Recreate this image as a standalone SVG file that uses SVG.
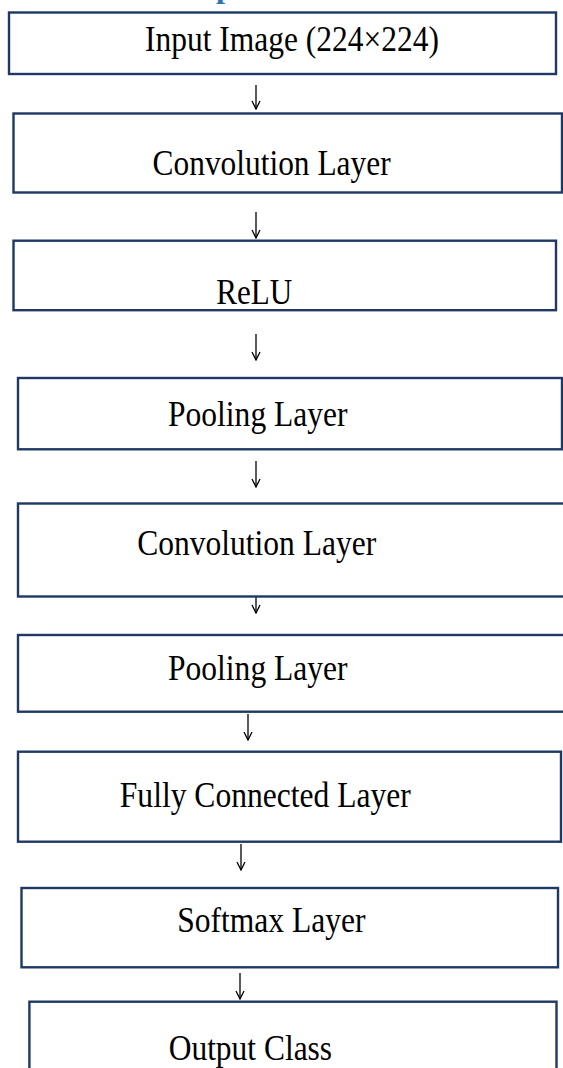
<svg xmlns="http://www.w3.org/2000/svg" width="563" height="1068" viewBox="0 0 563 1068">
<defs>
<style>
.box{fill:#ffffff;stroke:#1f3864;stroke-width:2.4}
.lbl{font-family:"Liberation Serif","Times New Roman",serif;font-size:35px;fill:#000;text-anchor:middle}
.con{stroke:#000;stroke-width:1.3;fill:none}
.head{font-family:"Liberation Serif","Times New Roman",serif;font-size:32px;font-weight:bold;fill:#2e74b5}
</style>
<marker id="ah" viewBox="0 0 10 10" refX="9" refY="5" markerWidth="10" markerHeight="10" markerUnits="userSpaceOnUse" orient="auto">
<path d="M1,1 L9,5 L1,9" fill="none" stroke="#000" stroke-width="1.3"/>
</marker>
</defs>
<rect width="563" height="1068" fill="#ffffff"/>
<text class="head" x="216" y="-3">p</text>
<g id="connectors">
<path class="con" d="M256,85 V109" marker-end="url(#ah)"/>
<path class="con" d="M256,212 V238" marker-end="url(#ah)"/>
<path class="con" d="M256,334 V360" marker-end="url(#ah)"/>
<path class="con" d="M256,461 V487" marker-end="url(#ah)"/>
<path class="con" d="M256,587 V613" marker-end="url(#ah)"/>
<path class="con" d="M248,714 V740" marker-end="url(#ah)"/>
<path class="con" d="M241,844 V870" marker-end="url(#ah)"/>
<path class="con" d="M240,973 V999" marker-end="url(#ah)"/>
</g>
<g id="n1"><rect class="box" x="9" y="12.5" width="547" height="61.5"/><text class="lbl" x="292" y="51" textLength="294" lengthAdjust="spacingAndGlyphs">Input Image (224×224)</text></g>
<g id="n2"><rect class="box" x="13.5" y="113.5" width="548.5" height="79"/><text class="lbl" x="271.6" y="175" textLength="238" lengthAdjust="spacingAndGlyphs">Convolution Layer</text></g>
<g id="n3"><rect class="box" x="13.5" y="240.7" width="542.5" height="69.5"/><text class="lbl" x="254.3" y="304" textLength="76" lengthAdjust="spacingAndGlyphs">ReLU</text></g>
<g id="n4"><rect class="box" x="18" y="378" width="544" height="71.3"/><text class="lbl" x="257.8" y="426" textLength="179.5" lengthAdjust="spacingAndGlyphs">Pooling Layer</text></g>
<g id="n5"><rect class="box" x="18" y="503.5" width="560" height="93"/><text class="lbl" x="256.7" y="555" textLength="239" lengthAdjust="spacingAndGlyphs">Convolution Layer</text></g>
<g id="n6"><rect class="box" x="18" y="635" width="560" height="76.7"/><text class="lbl" x="257.8" y="680" textLength="179.5" lengthAdjust="spacingAndGlyphs">Pooling Layer</text></g>
<g id="n7"><rect class="box" x="18" y="751.7" width="543" height="90"/><text class="lbl" x="265.3" y="807" textLength="291" lengthAdjust="spacingAndGlyphs">Fully Connected Layer</text></g>
<g id="n8"><rect class="box" x="21.5" y="888" width="536.5" height="79.3"/><text class="lbl" x="271.3" y="932" textLength="188.3" lengthAdjust="spacingAndGlyphs">Softmax Layer</text></g>
<g id="n9"><rect class="box" x="29.4" y="1001.7" width="527.1" height="80"/><text class="lbl" x="250.4" y="1060" textLength="163.4" lengthAdjust="spacingAndGlyphs">Output Class</text></g>
</svg>
